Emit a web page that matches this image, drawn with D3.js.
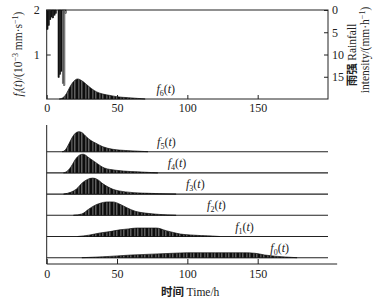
<!DOCTYPE html>
<html>
<head>
<meta charset="utf-8">
<script src="https://cdn.jsdelivr.net/npm/d3@7"></script>
<style>
  body { margin: 0; background: #fff; }
  svg { display: block; }
  .tick text { font-family: "Liberation Serif", serif; font-size: 12px; fill: #222; }
  .tick line, .domain { stroke: #222; }
</style>
</head>
<body>
<div class="plot"></div>
<script>
// DATA
var rainHours = [0, 1, 2, 3, 4, 5, 6, 7, 8, 9, 10, 11, 12, 13];
var rainVals = [4.4, 3.5, 2.2, 1.6, 1.8, 1.2, 0.8, 0, 15.2, 14.5, 13.8, 16.5, 17, 0.8];

var f6Hours = [9, 12, 14, 16.5, 19, 22, 25, 28.5, 32, 35.5, 40, 45, 50, 58, 66, 70];
var f6Vals = [0, 0.04, 0.12, 0.27, 0.39, 0.45, 0.41, 0.32, 0.23, 0.16, 0.11, 0.08, 0.05, 0.03, 0.01, 0];

var f5Hours = [11, 13, 16, 18.5, 21, 23, 25, 28, 31.5, 35, 40, 47, 56, 66, 72];
var f5Vals = [0, 0.03, 0.19, 0.34, 0.43, 0.45, 0.43, 0.34, 0.25, 0.19, 0.11, 0.054, 0.027, 0.01, 0];
var f4Hours = [12, 15, 17.5, 21, 24, 26, 30, 35, 41, 49, 60, 70, 79];
var f4Vals = [0, 0.05, 0.15, 0.33, 0.41, 0.42, 0.34, 0.23, 0.11, 0.06, 0.03, 0.015, 0];
var f3Hours = [12, 17, 21, 25.6, 29, 32.7, 36, 40, 47, 56, 68, 80, 92];
var f3Vals = [0, 0.04, 0.11, 0.26, 0.33, 0.36, 0.33, 0.23, 0.11, 0.05, 0.022, 0.01, 0];
var f2Hours = [19, 25, 30, 34, 38, 43, 47, 52, 57, 63, 70, 80, 92];
var f2Vals = [0, 0.03, 0.14, 0.22, 0.27, 0.3, 0.3, 0.25, 0.17, 0.09, 0.05, 0.02, 0];
var f1Hours = [22, 30, 38, 45, 52, 58, 64, 72, 78, 85, 90, 95, 102, 110, 118, 123];
var f1Vals = [0, 0.03, 0.08, 0.11, 0.15, 0.17, 0.19, 0.19, 0.19, 0.13, 0.09, 0.055, 0.035, 0.02, 0.01, 0];
var f0Hours = [25, 40, 50, 60, 75, 90, 100, 120, 140, 148, 155, 162, 170, 178];
var f0Vals = [0, 0.02, 0.04, 0.06, 0.08, 0.1, 0.11, 0.11, 0.11, 0.1, 0.06, 0.035, 0.015, 0];

var ridgeNames = ["5", "4", "3", "2", "1", "0"];
var ridgeHours = [f5Hours, f4Hours, f3Hours, f2Hours, f1Hours, f0Hours];
var ridgeVals = [f5Vals, f4Vals, f3Vals, f2Vals, f1Vals, f0Vals];
var labelHours = [78.5, 86, 99, 114, 134, 159];
var f6LabelHour = 78;

var timeTicks = [0, 50, 100, 150];
var fluxTicks = [1, 2];
var rainTicks = [0, 5, 10, 15];

var w = 379;
var h = 303;
var serif = "'Liberation Serif', 'DejaVu Serif', serif";
var cjk = "'Noto Sans CJK SC', sans-serif";

var svg = d3.select(".plot").append("svg").attr("width", w).attr("height", h);

// stripe texture
var pat = svg.append("defs").append("pattern")
  .attr("id", "stripes")
  .attr("patternUnits", "userSpaceOnUse")
  .attr("width", 7).attr("height", 10);
pat.append("rect").attr("width", 7).attr("height", 10).attr("fill", "#0d0d0d");
pat.append("rect").attr("x", 1.5).attr("width", 0.8).attr("height", 10).attr("fill", "#8c8c8c");
pat.append("rect").attr("x", 4.6).attr("width", 0.6).attr("height", 10).attr("fill", "#d8d8d8");

// SCALES
var x = d3.scaleLinear().domain([0, 200]).range([46.7, 328]);
var yTop = d3.scaleLinear().domain([0, 2]).range([99, 10]);
var yRain = d3.scaleLinear().domain([0, 20]).range([10, 99]);
var base = d3.scalePoint().domain(ridgeNames).range([151.7, 257.7]);
var hScale = d3.scaleLinear().domain([0, 2]).range([0, 89]);

function pts(hours, vals) {
  return hours.map(function (t, i) { return { t: t, v: vals[i] }; });
}

// ---------- TOP PANEL ----------
// frame
svg.append("rect")
  .attr("x", x(0)).attr("y", yTop(2))
  .attr("width", x(200) - x(0)).attr("height", yTop(0) - yTop(2))
  .attr("fill", "none").attr("stroke", "#222").attr("stroke-width", 1);

// rainfall bars hanging from top
svg.selectAll(".rain")
  .data(rainHours)
  .enter()
  .append("rect")
  .attr("class", "rain")
  .attr("x", function (d) { return x(d); })
  .attr("y", yRain(0))
  .attr("width", x(1) - x(0))
  .attr("height", function (d, i) { return yRain(rainVals[i]) - yRain(0); })
  .attr("fill", function (d) { return d >= 11 ? "#9a9a9a" : "#111"; })
  .attr("stroke", "#111")
  .attr("stroke-width", 0.4);

// f6 curve
var areaTop = d3.area()
  .x(function (d) { return x(d.t); })
  .y0(yTop(0))
  .y1(function (d) { return yTop(d.v); })
  .curve(d3.curveMonotoneX);

svg.append("path")
  .datum(pts(f6Hours, f6Vals))
  .attr("d", areaTop)
  .attr("fill", "url(#stripes)")
  .attr("stroke", "#111")
  .attr("stroke-width", 0.7);

// top axes
svg.append("g")
  .attr("transform", "translate(0," + yTop(0) + ")")
  .call(d3.axisBottom(x).tickValues(timeTicks).tickSizeInner(-4).tickSizeOuter(0).tickPadding(4))
  .call(function (g) { g.select(".domain").remove(); });

svg.append("g")
  .attr("transform", "translate(" + x(0) + ",0)")
  .call(d3.axisLeft(yTop).tickValues(fluxTicks).tickFormat(d3.format("d")).tickSizeInner(-4).tickSizeOuter(0).tickPadding(7))
  .call(function (g) { g.select(".domain").remove(); });

svg.append("g")
  .attr("transform", "translate(" + x(200) + ",0)")
  .call(d3.axisRight(yRain).tickValues(rainTicks).tickSizeInner(-4).tickSizeOuter(0).tickPadding(4))
  .call(function (g) { g.select(".domain").remove(); });

// f label helper
function fLabel(sel, sub) {
  sel.append("tspan").attr("font-style", "italic").text("f");
  sel.append("tspan").attr("font-size", "8px").attr("dy", 3).text(sub);
  sel.append("tspan").attr("dy", -3).text("(");
  sel.append("tspan").attr("font-style", "italic").text("t");
  sel.append("tspan").text(")");
}

svg.append("text")
  .attr("x", x(f6LabelHour)).attr("y", yTop(0) - 6)
  .attr("font-family", serif).attr("font-size", "12px").attr("fill", "#222")
  .call(fLabel, "6");

// left y label
var yl = svg.append("text")
  .attr("transform", "translate(22," + 54 + ") rotate(-90)")
  .attr("text-anchor", "middle")
  .attr("font-family", serif).attr("font-size", "11.5px").attr("fill", "#222");
yl.append("tspan").attr("font-style", "italic").text("f");
yl.append("tspan").attr("font-size", "8px").attr("dy", 3).attr("font-style", "italic").text("i");
yl.append("tspan").attr("dy", -3).text("(");
yl.append("tspan").attr("font-style", "italic").text("t");
yl.append("tspan").text(")/(10");
yl.append("tspan").attr("font-size", "8px").attr("dy", -4).text("\u22123");
yl.append("tspan").attr("dy", 4).text(" mm\u00b7s");
yl.append("tspan").attr("font-size", "8px").attr("dy", -4).text("\u22121");
yl.append("tspan").attr("dy", 4).text(")");

// right y label (two lines)
var rl1 = svg.append("text")
  .attr("transform", "translate(356,55) rotate(-90)")
  .attr("text-anchor", "middle")
  .attr("font-size", "11.5px").attr("fill", "#222");
rl1.append("tspan").attr("font-family", cjk).attr("font-weight", "bold").text("雨强 ");
rl1.append("tspan").attr("font-family", serif).text("Rainfall");

var rl2 = svg.append("text")
  .attr("transform", "translate(369,50) rotate(-90)")
  .attr("text-anchor", "middle")
  .attr("font-family", serif).attr("font-size", "11.5px").attr("fill", "#222");
rl2.append("tspan").text("intensity/(mm\u00b7h");
rl2.append("tspan").attr("font-size", "8px").attr("dy", -4).text("\u22121");
rl2.append("tspan").attr("dy", 4).text(")");

// ---------- BOTTOM PANEL ----------
var axisY = base("0") + 6.3;
var panelTop = base("5") - hScale(0.6);

var ridges = svg.selectAll(".ridge")
  .data(ridgeNames)
  .enter()
  .append("g")
  .attr("class", "ridge");

// baselines
ridges.append("line")
  .attr("x1", x(0)).attr("x2", x(200))
  .attr("y1", function (d) { return base(d); })
  .attr("y2", function (d) { return base(d); })
  .attr("stroke", "#222").attr("stroke-width", 1.1);

ridges.append("path")
  .attr("d", function (d, i) {
    var b = base(d);
    return d3.area()
      .x(function (p) { return x(p.t); })
      .y0(b)
      .y1(function (p) { return b - hScale(p.v); })
      .curve(d3.curveMonotoneX)(pts(ridgeHours[i], ridgeVals[i]));
  })
  .attr("fill", "url(#stripes)")
  .attr("stroke", "#111")
  .attr("stroke-width", 0.7);

ridges.append("text")
  .attr("x", function (d, i) { return x(labelHours[i]); })
  .attr("y", function (d) { return base(d) - 6; })
  .attr("font-family", serif).attr("font-size", "12px").attr("fill", "#222")
  .each(function (d) { fLabel(d3.select(this), d); });

// left axis line
svg.append("line")
  .attr("x1", x(0)).attr("x2", x(0))
  .attr("y1", panelTop).attr("y2", axisY)
  .attr("stroke", "#222");

// bottom axis
svg.append("g")
  .attr("transform", "translate(0," + axisY + ")")
  .call(d3.axisBottom(x).tickValues(timeTicks).tickSizeInner(-5).tickSizeOuter(0).tickPadding(5))
  .call(function (g) { g.select(".domain").remove(); });

svg.append("line")
  .attr("x1", x(0)).attr("x2", x(206.5))
  .attr("y1", axisY).attr("y2", axisY)
  .attr("stroke", "#222");

// x label
var xl = svg.append("text")
  .attr("x", x(102)).attr("y", 296)
  .attr("text-anchor", "middle")
  .attr("font-size", "11.5px").attr("fill", "#222");
xl.append("tspan").attr("font-family", cjk).attr("font-weight", "bold").text("时间 ");
xl.append("tspan").attr("font-family", serif).text("Time/h");
</script>
</body>
</html>
